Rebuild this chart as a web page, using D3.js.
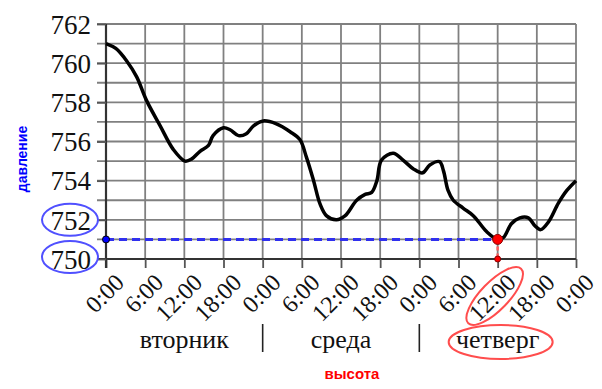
<!DOCTYPE html>
<html>
<head>
<meta charset="utf-8">
<script src="https://cdn.jsdelivr.net/npm/d3@7"></script>
<style>
  html, body { margin: 0; padding: 0; background: #fff; }
  svg { display: block; }
  .serif { font-family: "Liberation Serif", "Times New Roman", serif; }
  .sans { font-family: "Liberation Sans", Arial, sans-serif; }
</style>
</head>
<body>
<svg id="chart" width="602" height="389"></svg>
<script>
// ---- data ----
const hours = [0,1.5,3.2,4.7,6.2,8.3,10.3,12.1,13.1,14.4,15.7,16.4,18,19,20.3,21.5,22.6,24.1,26.1,28.2,29.7,30.7,31.8,32.8,33.8,35.3,36.6,38.4,39.7,40.7,41.5,42.2,44,45.5,47.1,48.5,49.6,51.1,51.7,52.4,53.2,54.7,56.3,58.3,60,60.9,62.1,63.4,64.7,65.7,66.6,67.8,69.3,70.6,72];
const pressure = [761,760.75,760.1,759.3,758.1,756.8,755.6,755.0,755.1,755.5,755.8,756.3,756.7,756.6,756.3,756.4,756.8,757.05,756.9,756.5,756.1,755.2,754.0,752.8,752.2,752.0,752.2,753.0,753.3,753.4,754.0,755.05,755.4,755.05,754.6,754.4,754.8,754.97,754.5,753.5,753.0,752.6,752.2,751.4,751.0,751.1,751.8,752.1,752.1,751.7,751.5,751.9,752.85,753.5,754.0];
const xTickHours = [0,6,12,18,24,30,36,42,48,54,60,66,72];
const xTickLabels = ["0:00","6:00","12:00","18:00","0:00","6:00","12:00","18:00","0:00","6:00","12:00","18:00","0:00"];
const yTickValues = [750,752,754,756,758,760,762];
const dayNames = ["вторник","среда","четверг"];
const dayCenters = [12,36,60];
const daySeparators = [24,48];
const yAxisTitle = "давление";
const xAxisTitle = "высота";
const answerHour = 60;
const answerValue = 751;

// ---- scales ----
const svg = d3.select("#chart");
const x = d3.scaleLinear().domain([0,72]).range([106,576]);
const y = d3.scaleLinear().domain([750,762]).range([259,24]);

// horizontal grid (every unit)
svg.append("g").selectAll("line").data(d3.range(751,763)).join("line")
  .attr("x1", 97).attr("x2", x(72))
  .attr("y1", d => y(d)).attr("y2", d => y(d))
  .attr("stroke", "#808080").attr("stroke-width", 1.8);

// vertical grid
svg.append("g").selectAll("line").data(xTickHours.slice(1)).join("line")
  .attr("x1", d => x(d)).attr("x2", d => x(d))
  .attr("y1", y(762)).attr("y2", y(750))
  .attr("stroke", "#808080").attr("stroke-width", 1.8);

// x axis
const xAxis = svg.append("g").attr("transform", `translate(0,${y(750)})`)
  .call(d3.axisBottom(x).tickValues(xTickHours).tickSize(9).tickSizeOuter(0)
    .tickFormat((d,i) => xTickLabels[i]));
xAxis.attr("font-family", null).attr("font-size", null).attr("class", "serif");
xAxis.select(".domain").attr("stroke", "#333").attr("stroke-width", 2)
  .attr("d", `M97,0H${x(72)}`);
xAxis.selectAll(".tick line").attr("stroke", "#555").attr("stroke-width", 1.8);
xAxis.selectAll(".tick text")
  .style("font-size", "24px").attr("fill", "#111")
  .attr("text-anchor", "end")
  .attr("y", 0).attr("dy", 0)
  .attr("transform", "translate(19,25) rotate(-45)");

// y axis
const yAxis = svg.append("g").attr("transform", `translate(${x(0)},0)`)
  .call(d3.axisLeft(y).tickValues(yTickValues).tickSize(9).tickSizeOuter(0).tickFormat(d3.format("d")));
yAxis.attr("font-family", null).attr("font-size", null).attr("class", "serif");
yAxis.select(".domain").attr("stroke", "#333").attr("stroke-width", 2.2)
  .attr("d", `M0,${y(762)}V${y(750)+9}`);
yAxis.selectAll(".tick line").attr("stroke", "#555").attr("stroke-width", 1.8);
yAxis.selectAll(".tick text")
  .style("font-size", "27px").attr("fill", "#111")
  .attr("x", -15).attr("dy", "0.34em");

// day labels
svg.append("g").attr("class", "serif").selectAll("text").data(dayNames).join("text")
  .attr("x", (d,i) => x(dayCenters[i])).attr("y", 348)
  .attr("text-anchor", "middle")
  .style("font-size", "26px").attr("fill", "#111")
  .text(d => d);
svg.append("g").selectAll("line").data(daySeparators).join("line")
  .attr("x1", d => x(d)).attr("x2", d => x(d))
  .attr("y1", 324).attr("y2", 352)
  .attr("stroke", "#222").attr("stroke-width", 1.6);

// curve
const line = d3.line().x((d,i) => x(hours[i])).y(d => y(d)).curve(d3.curveCatmullRom.alpha(0.5));
svg.append("path").datum(pressure)
  .attr("d", line).attr("fill", "none")
  .attr("stroke", "#000").attr("stroke-width", 3.5).attr("stroke-linejoin", "round");

// annotations
svg.append("line")
  .attr("x1", x(0)).attr("x2", x(answerHour))
  .attr("y1", y(answerValue)).attr("y2", y(answerValue))
  .attr("stroke", "#3030ee").attr("stroke-width", 3).attr("stroke-dasharray", "8,5");
svg.append("line")
  .attr("x1", x(answerHour)).attr("x2", x(answerHour))
  .attr("y1", y(answerValue)).attr("y2", y(750))
  .attr("stroke", "#ff6060").attr("stroke-width", 2.5).attr("stroke-dasharray", "4,3");
svg.append("circle").attr("cx", x(0)).attr("cy", y(answerValue)).attr("r", 3.5)
  .attr("fill", "#0000ff").attr("stroke", "#000").attr("stroke-width", 1);
svg.append("circle").attr("cx", x(answerHour)).attr("cy", y(answerValue)).attr("r", 5)
  .attr("fill", "#ff0000").attr("stroke", "#800").attr("stroke-width", 1);
svg.append("circle").attr("cx", x(answerHour)).attr("cy", y(750)).attr("r", 3)
  .attr("fill", "#ff0000").attr("stroke", "#800").attr("stroke-width", 1);

// ellipses
svg.append("ellipse").attr("cx", 70).attr("cy", y(752)).attr("rx", 28).attr("ry", 16)
  .attr("fill", "none").attr("stroke", "#5050ff").attr("stroke-width", 2);
svg.append("ellipse").attr("cx", 70).attr("cy", y(750) - 2).attr("rx", 28).attr("ry", 16)
  .attr("fill", "none").attr("stroke", "#5050ff").attr("stroke-width", 2);
svg.append("ellipse").attr("rx", 38).attr("ry", 14)
  .attr("transform", `translate(${x(answerHour)-3},296) rotate(-46)`)
  .attr("fill", "none").attr("stroke", "#ff4d4d").attr("stroke-width", 2);
svg.append("ellipse").attr("cx", x(dayCenters[2])+3).attr("cy", 342).attr("rx", 52).attr("ry", 17)
  .attr("fill", "none").attr("stroke", "#ff4d4d").attr("stroke-width", 2);

// titles
svg.append("text").attr("class", "sans").attr("transform", "translate(27,159) rotate(-90)")
  .attr("text-anchor", "middle").attr("font-weight", "bold")
  .style("font-size", "14px").attr("fill", "#0000ff").text(yAxisTitle);
svg.append("text").attr("class", "sans").attr("x", 352).attr("y", 379)
  .attr("text-anchor", "middle").attr("font-weight", "bold")
  .style("font-size", "15px").attr("fill", "#ff0000").text(xAxisTitle);
</script>
</body>
</html>
